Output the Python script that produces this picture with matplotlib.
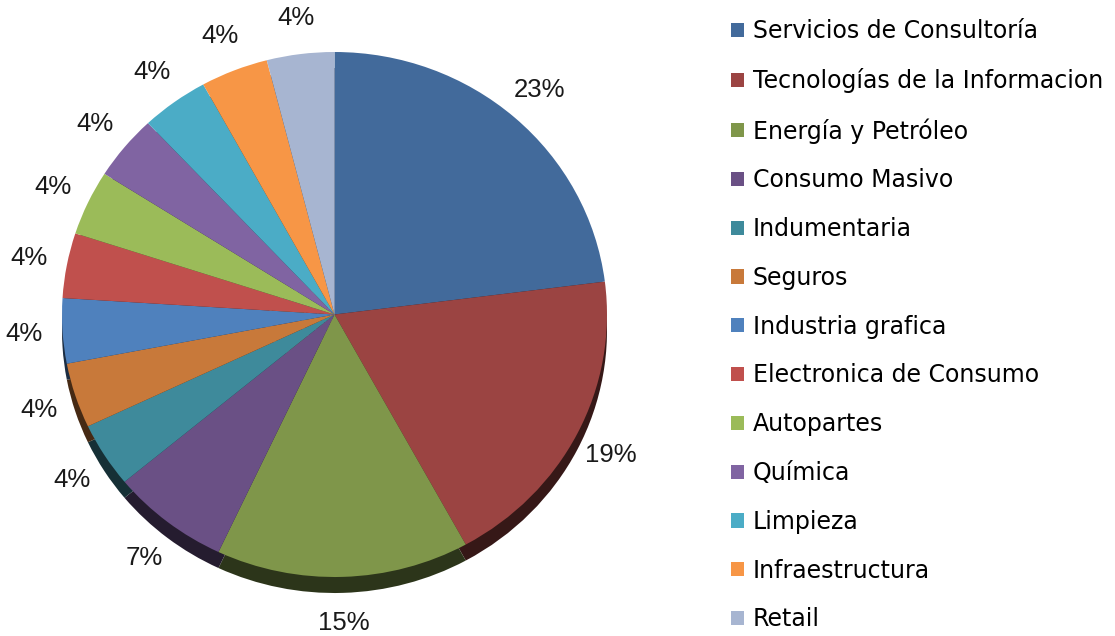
import numpy as np
import matplotlib.pyplot as plt
from matplotlib.colors import to_rgb

# Sector shares as printed on the chart (%)
sectores = ['Servicios de Consultoría', 'Tecnologías de la Informacion', 'Energía y Petróleo',
            'Consumo Masivo', 'Indumentaria', 'Seguros', 'Industria grafica',
            'Electronica de Consumo', 'Autopartes', 'Química', 'Limpieza',
            'Infraestructura', 'Retail']
valores = [23, 19, 15, 7, 4, 4, 4, 4, 4, 4, 4, 4, 4]
colores = ['#426A9B', '#9B4442', '#7F964A', '#6A5085', '#3E8A9B', '#C8793A',
           '#4F81BD', '#C0504D', '#9BBB59', '#8064A2', '#4BACC6', '#F79646', '#A7B5D1']

W, H = 1115, 636
fig = plt.figure(figsize=(W / 100, H / 100), dpi=100)

# pie ellipse in pixels
cx, cy, rx, ry = 334.5, 314.5, 272.5, 262.5
depth = 16
ax = fig.add_axes([(cx - rx) / W, (H - (cy + ry + depth)) / H, 2 * rx / W, (2 * ry + depth) / H])

# darker side of the 3D pie
sombra = [tuple(c * 0.35 for c in to_rgb(col)) for col in colores]
ax.pie(valores, colors=sombra, startangle=90, counterclock=False, radius=1,
       center=(0, -depth / ry), frame=True)
wedges, _ = ax.pie(valores, colors=colores, startangle=90, counterclock=False, radius=1,
                   center=(0, 0), frame=True)
ax.set_aspect('auto')
ax.set_xlim(-1, 1)
ax.set_ylim(-1 - depth / ry, 1)
ax.axis('off')

# percentage labels
for w, v in zip(wedges, valores):
    ang = np.deg2rad((w.theta1 + w.theta2) / 2)
    r = 1.14
    dy = 0.035 * max(0, -np.sin(ang))
    ax.text(r * np.cos(ang), r * np.sin(ang) - dy, f'{v}%', clip_on=False,
            ha='center', va='center', fontsize=18.5, family='Liberation Sans', color='#1a1a1a')

fig.legend(wedges, sectores, loc='upper left', bbox_to_anchor=(722 / W, 1 - 10 / H),
           frameon=False, fontsize=17, handlelength=0.55, handleheight=0.55,
           handletextpad=0.35, labelspacing=1.05, borderaxespad=0)

fig.savefig('out.png', dpi=100)
